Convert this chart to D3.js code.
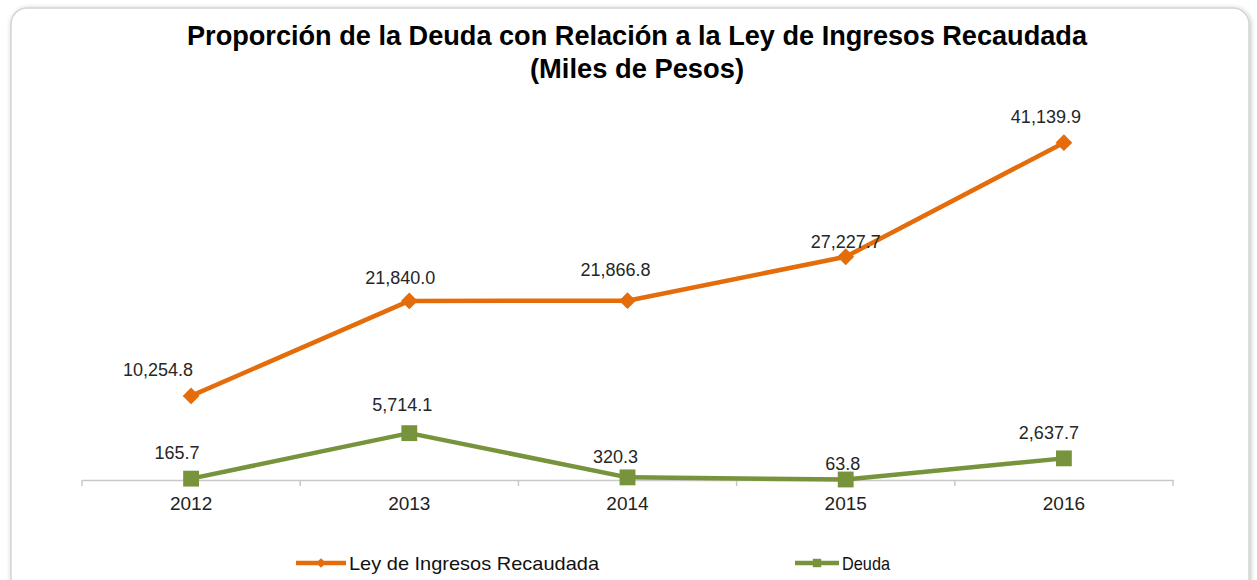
<!DOCTYPE html>
<html>
<head>
<meta charset="utf-8">
<script src="https://cdn.jsdelivr.net/npm/d3@7"></script>
<style>
  html, body { margin: 0; padding: 0; background: #ffffff; }
  svg { display: block; }
</style>
</head>
<body>
<svg id="chart" width="1257" height="580"></svg>
<script>
const years = ["2012", "2013", "2014", "2015", "2016"];
const leyIngresos = [10254.8, 21840.0, 21866.8, 27227.7, 41139.9];
const deuda = [165.7, 5714.1, 320.3, 63.8, 2637.7];
const seriesNames = ["Ley de Ingresos Recaudada", "Deuda"];
const titleLines = ["Proporción de la Deuda con Relación a la Ley de  Ingresos Recaudada", "(Miles de Pesos)"];

// label nudges (pixels, styling only — reproduces the manually placed data labels)
const leyLabelNudge = [[-33, -26], [-9, -23], [-12, -31], [0, -15], [-18, -26]];
const deudaLabelNudge = [[-14, -26], [-7, -28], [-12, -21], [-3, -16], [-15, -26]];

const svg = d3.select("#chart");

// card background
const defs = svg.append("defs");
const f = defs.append("filter").attr("id", "sh").attr("x", "-5%").attr("y", "-5%").attr("width", "110%").attr("height", "110%");
f.append("feGaussianBlur").attr("in", "SourceAlpha").attr("stdDeviation", 2.5);
f.append("feOffset").attr("dx", 1).attr("dy", 1).attr("result", "b");
f.append("feComponentTransfer").append("feFuncA").attr("type", "linear").attr("slope", 0.25);
const m = f.append("feMerge"); m.append("feMergeNode"); m.append("feMergeNode").attr("in", "SourceGraphic");

svg.append("rect").attr("x", 11).attr("y", 8).attr("width", 1238).attr("height", 590)
  .attr("rx", 16).attr("fill", "#ffffff").attr("stroke", "#d4d4d4").attr("stroke-width", 1.5)
  .attr("filter", "url(#sh)");

const x = d3.scaleBand().domain(years).range([82, 1173]).paddingInner(0).paddingOuter(0);
const y = d3.scaleLinear().domain([0, 50000]).range([480, 70]);
const cx = d => x(d) + x.bandwidth() / 2;

// title
const t = svg.append("text").attr("text-anchor", "middle")
  .attr("font-family", "'Liberation Sans', Arial, sans-serif")
  .attr("font-weight", "bold").attr("font-size", 28).attr("fill", "#000");
t.append("tspan").attr("x", 637).attr("y", 45).attr("textLength", 900).attr("lengthAdjust", "spacingAndGlyphs").text(titleLines[0]);
t.append("tspan").attr("x", 637).attr("y", 78).attr("textLength", 214).attr("lengthAdjust", "spacingAndGlyphs").text(titleLines[1]);

// axis
const axis = d3.axisBottom(x).tickSize(0).tickPadding(17);
const gx = svg.append("g").attr("transform", "translate(0,480)").call(axis);
gx.select(".domain").attr("stroke", "#c8c8c8").attr("stroke-width", 1.5);
gx.selectAll("text").attr("font-family", "'Liberation Sans', Arial, sans-serif")
  .attr("font-size", 19).attr("fill", "#222").attr("dy", "0.71em");
const bounds = years.map(d => x(d)).concat([x(years[years.length - 1]) + x.bandwidth()]);
svg.append("g").selectAll("line").data(bounds).join("line")
  .attr("x1", d => d).attr("x2", d => d).attr("y1", 480).attr("y2", 486)
  .attr("stroke", "#c8c8c8").attr("stroke-width", 1.5);

const orange = "#E46C0A", green = "#77933C";
const line = d3.line().x((d, i) => cx(years[i])).y(d => y(d));

function drawSeries(vals, color, shape, size, nudge) {
  const g = svg.append("g");
  g.append("path").datum(vals).attr("d", line).attr("fill", "none")
    .attr("stroke", color).attr("stroke-width", 4.5).attr("stroke-linejoin", "round");
  g.selectAll("path.mk").data(vals).join("path").attr("class", "mk")
    .attr("d", d3.symbol().type(shape).size(size))
    .attr("transform", (d, i) => `translate(${cx(years[i])},${y(d)})`)
    .attr("fill", color);
  g.selectAll("text").data(vals).join("text")
    .attr("x", (d, i) => cx(years[i]) + nudge[i][0]).attr("y", (d, i) => y(d) + nudge[i][1])
    .attr("dy", "0.35em")
    .attr("text-anchor", "middle")
    .attr("font-family", "'Liberation Sans', Arial, sans-serif")
    .attr("font-size", 18).attr("fill", "#262626")
    .text(d => d3.format(",.1f")(d));
}
drawSeries(leyIngresos, orange, d3.symbolDiamond2, 180, leyLabelNudge);
drawSeries(deuda, green, d3.symbolSquare2, 320, deudaLabelNudge);

// legend
const legend = [
  { name: seriesNames[0], color: orange, shape: d3.symbolDiamond2, size: 60, x: 296, w: 50, tl: 250 },
  { name: seriesNames[1], color: green, shape: d3.symbolSquare2, size: 90, x: 795, w: 44, tl: 48 }
];
const lg = svg.append("g").selectAll("g").data(legend).join("g")
  .attr("transform", d => `translate(${d.x},563)`);
lg.append("line").attr("x1", 0).attr("x2", d => d.w).attr("stroke", d => d.color).attr("stroke-width", 4.5);
lg.append("path").attr("d", d => d3.symbol().type(d.shape).size(d.size)()).attr("transform", d => `translate(${d.w / 2},0)`)
  .attr("fill", d => d.color);
lg.append("text").attr("x", d => d.w + 3).attr("dy", "0.35em")
  .attr("textLength", d => d.tl).attr("lengthAdjust", "spacingAndGlyphs")
  .attr("font-family", "'Liberation Sans', Arial, sans-serif")
  .attr("font-size", 19).attr("fill", "#111").text(d => d.name);
</script>
</body>
</html>
